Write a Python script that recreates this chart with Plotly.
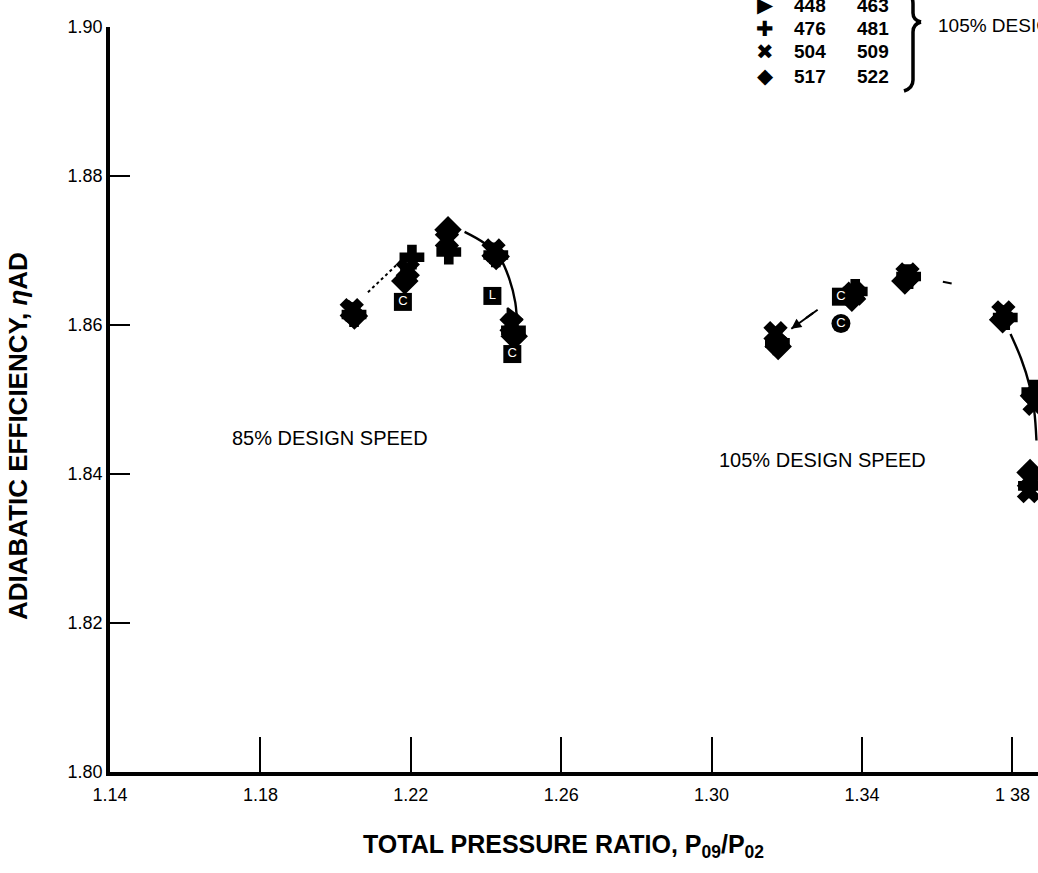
import plotly.graph_objects as go

# ---------------- data ----------------
series_names = ["448 / 463", "476 / 481", "504 / 509", "517 / 522"]
series_symbols = ["triangle-right", "cross", "x", "diamond"]

pr_448 = [1.2046, 1.2187, 1.2298, 1.2423, 1.2470, 1.3172, 1.3376, 1.3517, 1.3778, 1.3858, 1.3846]
eff_448 = [1.8618, 1.8666, 1.8722, 1.8697, 1.8608, 1.8583, 1.8640, 1.8662, 1.8614, 1.8501, 1.8394]
pr_476 = [1.2049, 1.2203, 1.2301, 1.2426, 1.2473, 1.3175, 1.3382, 1.3524, 1.3781, 1.3857, 1.3848]
eff_476 = [1.8614, 1.8691, 1.8698, 1.8694, 1.8593, 1.8576, 1.8645, 1.8665, 1.8610, 1.8510, 1.8384]
pr_504 = [1.2043, 1.2192, 1.2296, 1.2420, 1.2468, 1.3170, 1.3379, 1.3521, 1.3776, 1.3859, 1.3844]
eff_504 = [1.8620, 1.8674, 1.8714, 1.8700, 1.8600, 1.8589, 1.8642, 1.8668, 1.8617, 1.8494, 1.8377]
pr_517 = [1.2050, 1.2184, 1.2299, 1.2427, 1.2475, 1.3177, 1.3373, 1.3514, 1.3774, 1.3856, 1.3847]
eff_517 = [1.8612, 1.8659, 1.8728, 1.8692, 1.8585, 1.8571, 1.8636, 1.8659, 1.8607, 1.8505, 1.8402]

series_pr = [pr_448, pr_476, pr_504, pr_517]
series_eff = [eff_448, eff_476, eff_504, eff_517]

# Lettered square points
sq_pr = [1.2179, 1.2417, 1.2470, 1.3344]
sq_eff = [1.8631, 1.8639, 1.8561, 1.8638]
sq_text = ["C", "L", "C", "C"]
# Lettered circle point
ci_pr = [1.3344]
ci_eff = [1.8602]
ci_text = ["C"]

# Faired curves
curve85_pr = [1.2343, 1.2395, 1.2437, 1.2462, 1.2478, 1.2483]
curve85_eff = [1.8725, 1.8710, 1.8690, 1.8662, 1.8630, 1.8595]
curve105_pr = [1.3795, 1.3823, 1.3845, 1.3858, 1.3864]
curve105_eff = [1.8588, 1.8555, 1.8520, 1.8485, 1.8445]
dot85_pr = [1.2086, 1.2213]
dot85_eff = [1.8644, 1.8705]
dot105_pr = [1.3212, 1.3286]
dot105_eff = [1.8595, 1.8622]
dash105_pr = [1.3615, 1.3644]
dash105_eff = [1.8658, 1.8655]

x_ticks = [1.14, 1.18, 1.22, 1.26, 1.30, 1.34, 1.38]
x_tick_text = ["1.14", "1.18", "1.22", "1.26", "1.30", "1.34", "1 38"]
y_ticks = [1.80, 1.82, 1.84, 1.86, 1.88, 1.90]
y_tick_text = ["1.80", "1.82", "1.84", "1.86", "1.88", "1.90"]

legend_col1 = ["448", "476", "504", "517"]
legend_col2 = ["463", "481", "509", "522"]
legend_glyphs = ["\u25B6", "\u271A", "\u2716", "\u25C6"]

# ---------------- figure ----------------
W, H = 1038, 873
ML, MR, MT, MB = 110, 0, 27, 101
PW, PH = W - ML - MR, H - MT - MB
FONT = "Liberation Sans, Arial, sans-serif"


def px(xp):
    return (xp - ML) / PW


def py(yp):
    return (H - MB - yp) / PH


fig = go.Figure()

# curves
for cx, cy in ((curve85_pr, curve85_eff), (curve105_pr, curve105_eff)):
    fig.add_trace(go.Scatter(x=cx, y=cy, mode="lines", hoverinfo="skip",
                             line=dict(color="black", width=2.4, shape="spline")))
fig.add_trace(go.Scatter(x=dot85_pr, y=dot85_eff, mode="lines", hoverinfo="skip",
                         line=dict(color="black", width=2, dash="dot")))
fig.add_trace(go.Scatter(x=dot105_pr, y=dot105_eff, mode="lines", hoverinfo="skip",
                         line=dict(color="black", width=2, dash="dash")))
fig.add_trace(go.Scatter(x=dash105_pr, y=dash105_eff, mode="lines", hoverinfo="skip",
                         line=dict(color="black", width=2, dash="dash")))

# data series
for name, sym, xs, ys in zip(series_names, series_symbols, series_pr, series_eff):
    fig.add_trace(go.Scatter(
        x=xs, y=ys, mode="markers", name=name,
        marker=dict(symbol=sym, size=19, color="black", opacity=1, line=dict(color="black", width=2)),
        cliponaxis=False))

# lettered markers
fig.add_trace(go.Scatter(
    x=sq_pr, y=sq_eff, mode="markers+text", text=sq_text,
    marker=dict(symbol="square", size=18, color="black"),
    textfont=dict(color="white", size=13, family=FONT), textposition="middle center", cliponaxis=False))
fig.add_trace(go.Scatter(
    x=ci_pr, y=ci_eff, mode="markers+text", text=ci_text,
    marker=dict(symbol="circle", size=19, color="black"),
    textfont=dict(color="white", size=13, family=FONT), textposition="middle center", cliponaxis=False))

# arrow head on the 105% dashed line
fig.add_annotation(x=dot105_pr[0], y=dot105_eff[0], ax=dot105_pr[1], ay=dot105_eff[1],
                   xref="x", yref="y", axref="x", ayref="y", text="", showarrow=True,
                   arrowhead=2, arrowsize=1, arrowwidth=2, arrowcolor="black", standoff=0)

# speed labels
fig.add_annotation(x=px(330), y=py(438), xref="paper", yref="paper", text="85% DESIGN SPEED",
                   xanchor="center", yanchor="middle", showarrow=False,
                   font=dict(family=FONT, size=20, color="black"))
fig.add_annotation(x=px(822), y=py(460), xref="paper", yref="paper", text="105% DESIGN SPEED",
                   xanchor="center", yanchor="middle", showarrow=False,
                   font=dict(family=FONT, size=20, color="black"))

# axis titles
fig.add_annotation(x=px(18), y=py(436), xref="paper", yref="paper",
                   text="<b>ADIABATIC EFFICIENCY, <i>η</i>AD</b>", textangle=-90,
                   xanchor="center", yanchor="middle", showarrow=False,
                   font=dict(family=FONT, size=26, color="black"))
fig.add_annotation(x=px(563), y=py(846), xref="paper", yref="paper",
                   text="<b>TOTAL PRESSURE RATIO, P<sub>09</sub>/P<sub>02</sub></b>",
                   xanchor="center", yanchor="middle", showarrow=False,
                   font=dict(family=FONT, size=25, color="black"))

# legend block (top right)
row_y = [5, 29, 52, 76]
for g, c1, c2, ry in zip(legend_glyphs, legend_col1, legend_col2, row_y):
    fig.add_annotation(x=px(765), y=py(ry), xref="paper", yref="paper", text=g, showarrow=False,
                       xanchor="center", yanchor="middle",
                       font=dict(family="DejaVu Sans", size=21, color="black"))
    fig.add_annotation(x=px(810), y=py(ry), xref="paper", yref="paper", text="<b>" + c1 + "</b>",
                       xanchor="center", yanchor="middle", showarrow=False,
                       font=dict(family=FONT, size=19, color="black"))
    fig.add_annotation(x=px(873), y=py(ry), xref="paper", yref="paper", text="<b>" + c2 + "</b>",
                       xanchor="center", yanchor="middle", showarrow=False,
                       font=dict(family=FONT, size=19, color="black"))
fig.add_annotation(x=px(936), y=py(25), xref="paper", yref="paper", text="105% DESIGN SPEED",
                   xanchor="left", yanchor="middle", showarrow=False,
                   font=dict(family=FONT, size=19, color="black"))

# brace
def P(a, b):
    return "{:.5f},{:.5f}".format(px(a), py(b))

path = ("M " + P(905, -10) + " Q " + P(913, -6) + " " + P(913, 4) + " L " + P(913, 13)
        + " Q " + P(913, 20) + " " + P(921, 22)
        + " M " + P(921, 22) + " Q " + P(913, 24) + " " + P(913, 32) + " L " + P(913, 80)
        + " Q " + P(913, 88) + " " + P(904, 91))
fig.add_shape(type="path", xref="paper", yref="paper", path=path, line=dict(color="black", width=3.5))

fig.update_layout(
    width=W, height=H,
    margin=dict(l=ML, r=MR, t=MT, b=MB),
    paper_bgcolor="white", plot_bgcolor="white",
    showlegend=False,
    font=dict(family=FONT, color="black"),
    xaxis=dict(range=[1.14, 1.14 + PW / 3760], tickvals=x_ticks, ticktext=x_tick_text,
               showgrid=False, zeroline=False, showline=True, linecolor="black", linewidth=3.5,
               ticks="inside", ticklen=35, tickwidth=1.8, tickcolor="black",
               tickfont=dict(size=18, family=FONT), ticklabelstandoff=4, automargin=False),
    yaxis=dict(range=[1.80, 1.90], tickvals=y_ticks, ticktext=y_tick_text,
               showgrid=False, zeroline=False, showline=True, linecolor="black", linewidth=3.5,
               ticks="inside", ticklen=20, tickwidth=1.8, tickcolor="black",
               tickfont=dict(size=18, family=FONT), automargin=False),
)

fig.write_html("out.html")
